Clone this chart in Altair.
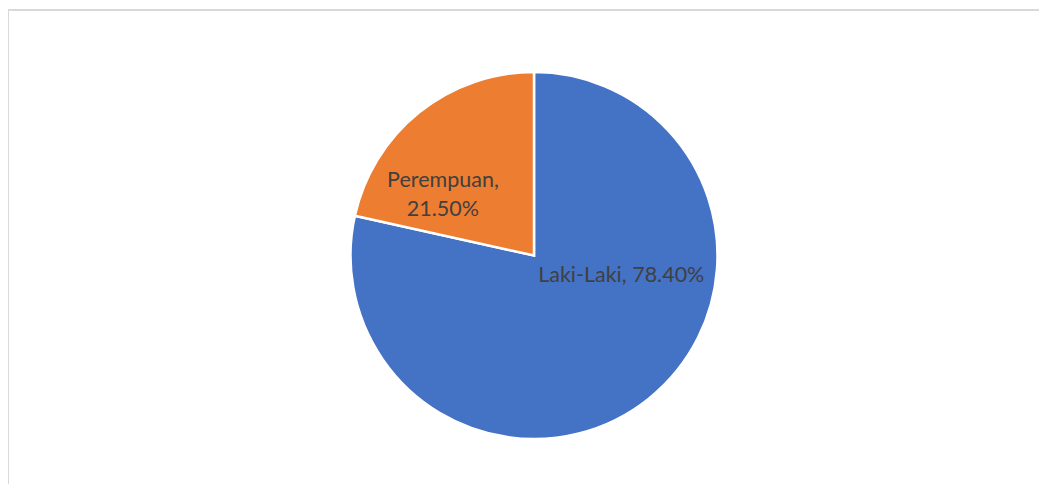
import altair as alt
import pandas as pd

categories = ["Laki-Laki", "Perempuan"]
values = [78.40, 21.50]
labels = ["Laki-Laki, 78.40%", "Perempuan,\n21.50%"]
colors = ["#4472C4", "#ED7D31"]
order = [0, 1]

df = pd.DataFrame({"cat": categories, "value": values, "label": labels, "ord": order})

CX, CY = 526, 247.5
FONT = "Lato"

pie = alt.Chart(df).mark_arc(outerRadius=183.5, stroke="white", strokeWidth=2.5).encode(
    theta=alt.Theta("value:Q", stack=True),
    order=alt.Order("ord:Q"),
    color=alt.Color("cat:N", scale=alt.Scale(domain=categories, range=colors), legend=None),
    x=alt.value(CX),
    y=alt.value(CY),
)

base_txt = alt.Chart(df).transform_joinaggregate(
    total="sum(value)"
).transform_window(
    cum="sum(value)", sort=[alt.SortField("ord")]
).transform_calculate(
    mid="2*PI*(datum.cum - datum.value/2)/datum.total"
)

txt_common = dict(align="center", baseline="middle", font=FONT, fontSize=21.5,
                  color="#404040", lineBreak="\n", lineHeight=29)

txt_l = base_txt.transform_filter(alt.datum.cat == "Laki-Laki").mark_text(
    radius=26, dx=71, **txt_common
).encode(theta=alt.Theta("mid:Q", scale=None), text="label:N", x=alt.value(CX), y=alt.value(CY))

txt_p = base_txt.transform_filter(alt.datum.cat == "Perempuan").mark_text(
    radius=95, dx=-31.6, **txt_common
).encode(theta=alt.Theta("mid:Q", scale=None), text="label:N", x=alt.value(CX), y=alt.value(CY))

border = alt.Chart(pd.DataFrame({"a": [0]})).mark_rect(
    fill="white", fillOpacity=0, stroke="#D9D9D9", strokeWidth=2
).encode(x=alt.value(0), y=alt.value(2), x2=alt.value(1200), y2=alt.value(700))

chart = alt.layer(border, pie, txt_l, txt_p).properties(
    width=1031, height=476, padding=0, autosize=alt.AutoSizeParams(type="none")
).configure_view(stroke=None)

chart.save("out.html", embed_options={"renderer": "svg", "actions": False})
